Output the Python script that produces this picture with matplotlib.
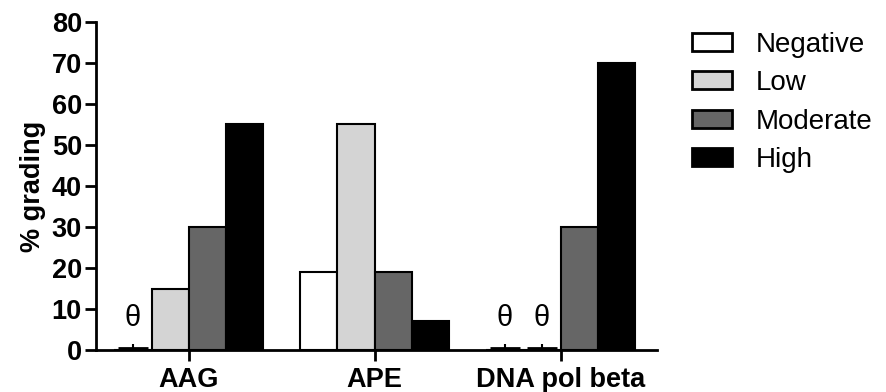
import numpy as np
import matplotlib.pyplot as plt
from matplotlib.patches import Patch

plt.rcParams['font.family'] = ['Liberation Sans', 'DejaVu Sans']

# datos
genes = ["AAG", "APE", "DNA pol beta"]
grados = ["Negative", "Low", "Moderate", "High"]
negative = [0, 19, 0]
low = [15, 55, 0]
moderate = [30, 19, 30]
high = [55, 7, 70]
colores = ["white", "#d4d4d4", "#666666", "black"]

series = [negative, low, moderate, high]

fig = plt.figure(figsize=(8.87, 3.92), dpi=100)
ax = fig.add_axes([0.108, 0.107, 0.633, 0.837])

x = np.arange(len(genes))
w = 0.2
for i, (vals, col) in enumerate(zip(series, colores)):
    pos = x + (i - 1.5) * w
    ax.bar(pos, vals, width=w, color=col, edgecolor="black", linewidth=1.5, zorder=2)
    # valores cero: marca pequena y simbolo theta
    for p, v in zip(pos, vals):
        if v == 0:
            ax.hlines(0.5, p - w * 0.4, p + w * 0.4, color="black", lw=2, zorder=3)
            ax.vlines(p, 0, 1.4, color="black", lw=1.5, zorder=3)
            ax.text(p, 7.8, "θ", ha="center", va="center", fontsize=21)

ax.set_xlim(-0.5, 2.52)
ax.set_ylim(0, 80)
ax.set_yticks(np.arange(0, 81, 10))
ax.set_xticks(x)
ax.set_xticklabels(genes, fontsize=19.5, fontweight="bold")
for lab in ax.get_yticklabels():
    lab.set_fontsize(19.5)
    lab.set_fontweight("bold")
ax.set_ylabel("% grading", fontsize=19.5, fontweight="bold", labelpad=4)

for s in ["top", "right"]:
    ax.spines[s].set_visible(False)
for s in ["left", "bottom"]:
    ax.spines[s].set_linewidth(2)
ax.tick_params(axis="y", length=8, width=2, pad=2)
ax.tick_params(axis="x", length=8, width=2, pad=4)

handles = [Patch(facecolor=c, edgecolor="black", linewidth=2) for c in colores]
fig.legend(handles, grados, loc="upper left", bbox_to_anchor=(0.764, 0.955),
           frameon=False, fontsize=20, handlelength=1.45, handleheight=0.6,
           handletextpad=0.85, labelspacing=0.45, borderpad=0)

fig.savefig("out.png", dpi=100)
